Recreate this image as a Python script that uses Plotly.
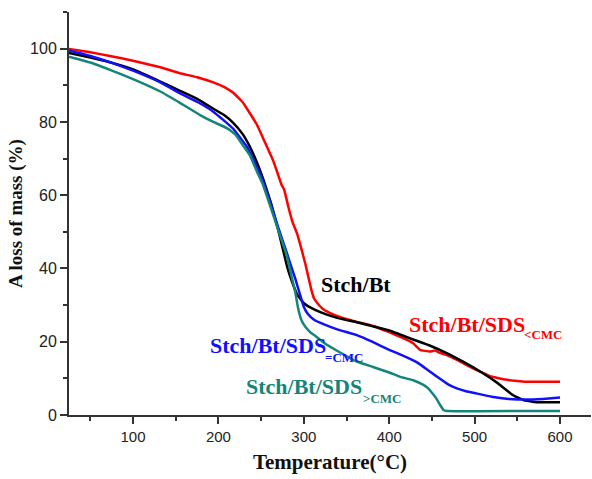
import plotly.graph_objects as go

# ---- data ----
red_x = [25, 50, 73, 100, 132, 155, 175, 194, 207, 217, 228, 237, 245, 252, 258, 264, 270, 274, 277,
         282, 287, 292, 297, 302, 306, 309, 312, 316, 322, 331, 343, 362, 381, 400, 413, 428, 436, 448,
         453, 459, 468, 480, 487, 500, 507, 518, 527, 538, 550, 560, 600]
red_y = [99.9, 99.0, 98.0, 96.7, 94.9, 93.3, 92.2, 90.8, 89.5, 88.0, 85.5, 82.3, 79.3, 75.7, 72.6,
         69.5, 65.5, 62.8, 61.5, 56.7, 52.5, 49.6, 45.5, 41.0, 37.0, 34.0, 31.8, 30.5, 29.0, 27.8,
         26.7, 25.4, 24.3, 22.6, 21.3, 19.6, 17.8, 17.3, 17.6, 17.0, 16.3, 15.0, 14.1, 12.5, 11.8,
         10.6, 10.1, 9.6, 9.3, 9.1, 9.1]

black_x = [25, 50, 73, 100, 132, 155, 175, 194, 207, 217, 228, 236, 245, 253, 262, 270, 281, 286,
           292, 300, 308, 320, 339, 362, 381, 401, 428, 448, 468, 487, 507, 527, 545, 557, 573, 600]
black_y = [98.8, 97.6, 96.3, 94.3, 91.0, 88.5, 86.3, 83.6, 81.8, 79.8, 76.8, 73.6, 69.0, 64.0, 57.5,
           50.5, 40.0, 36.5, 33.0, 30.5, 29.3, 28.0, 26.5, 25.3, 24.2, 23.0, 20.6, 18.9, 16.8,
           14.5, 11.8, 8.7, 5.4, 4.1, 3.5, 3.5]

blue_x = [25, 50, 73, 100, 132, 155, 175, 194, 217, 234, 245, 252, 262, 270, 280, 286, 290, 296, 300,
          305, 312, 323, 340, 362, 380, 400, 420, 433, 448, 460, 470, 480, 490, 500, 520, 540, 560, 580, 600]
blue_y = [99.5, 98.0, 96.3, 94.0, 90.8, 87.8, 85.5, 82.8, 78.2, 73.0, 67.6, 64.0, 57.0, 51.2, 44.3,
          40.0, 37.2, 32.5, 29.5, 27.5, 26.0, 24.8, 23.3, 21.8, 20.0, 17.8, 15.8, 14.3, 11.8, 9.8,
          8.2, 7.2, 6.5, 6.0, 5.0, 4.4, 4.2, 4.4, 4.8]

teal_x = [25, 50, 73, 100, 132, 155, 179, 194, 210, 220, 229, 237, 245, 252, 260, 270, 280, 286, 290,
          293, 297, 302, 308, 315, 323, 343, 362, 381, 400, 413, 428, 440, 445, 452, 456, 460, 464,
          468, 600]
teal_y = [97.8, 96.2, 94.2, 91.7, 88.3, 85.2, 81.8, 80.0, 78.3, 76.5, 73.5, 70.8, 66.5, 63.0, 57.5,
          50.5, 43.5, 37.5, 33.5, 29.5, 26.0, 24.0, 22.5, 21.3, 19.8, 17.0, 14.6, 13.1, 11.6, 10.4,
          9.5, 8.2, 7.4, 5.5, 4.2, 2.6, 1.3, 1.1, 1.1]

x_ticks = [100, 200, 300, 400, 500, 600]
y_ticks = [0, 20, 40, 60, 80, 100]

RED = "#ff0000"
BLACK = "#000000"
BLUE = "#1010ff"
TEAL = "#14857a"

fig = go.Figure()
for xs, ys, c in [(red_x, red_y, RED), (black_x, black_y, BLACK),
                  (blue_x, blue_y, BLUE), (teal_x, teal_y, TEAL)]:
    fig.add_trace(go.Scatter(x=xs, y=ys, mode="lines",
                             line=dict(color=c, width=2.5, shape="spline", smoothing=0.3),
                             showlegend=False, hoverinfo="skip"))

XR = [25, 636.3]
YR = [0, 110]
AX = "#333333"
xtickfont = dict(family="Liberation Sans, Arial, sans-serif", size=15, color="#222222")
ytickfont = dict(family="Liberation Sans, Arial, sans-serif", size=16, color="#222222")
serif = "Liberation Serif, Times New Roman, serif"

fig.update_layout(
    width=592, height=479,
    margin=dict(l=69, r=1, t=12, b=64, autoexpand=False),
    paper_bgcolor="white", plot_bgcolor="white",
    xaxis=dict(range=XR, tickvals=x_ticks, ticks="outside", ticklen=7, tickwidth=1.5,
               tickcolor=AX, showline=True, linecolor=AX, linewidth=2, showgrid=False,
               zeroline=False, tickfont=xtickfont, automargin=False,
               minor=dict(tickmode="linear", tick0=0, dtick=50, ticks="outside", ticklen=4,
                          tickwidth=1.5, tickcolor=AX),
               title=dict(text="<b>Temperature(°C)</b>",
                          font=dict(family=serif, size=21, color="#111111"), standoff=10)),
    xaxis2=dict(range=XR, overlaying="x", side="top", anchor="y", tickvals=x_ticks,
                ticks="inside", ticklen=7, tickwidth=1.5, tickcolor=AX, showline=True,
                linecolor=AX, linewidth=2, showgrid=False, zeroline=False,
                showticklabels=False,
                minor=dict(tickmode="linear", tick0=0, dtick=50, ticks="inside", ticklen=4,
                           tickwidth=1.5, tickcolor=AX)),
    yaxis=dict(range=YR, tickvals=y_ticks, ticks="outside", ticklen=7, tickwidth=1.5,
               tickcolor=AX, showline=True, linecolor=AX, linewidth=2, showgrid=False,
               zeroline=False, tickfont=ytickfont, automargin=False,
               minor=dict(tickmode="linear", tick0=0, dtick=10, ticks="outside", ticklen=4,
                          tickwidth=1.5, tickcolor=AX),
               title=dict(text="<b>A loss of mass (%)</b>",
                          font=dict(family=serif, size=19, color="#111111"), standoff=2)),
)

# labels: (x, y, text, size, colour)
labels = [
    (319.0, 35.5, "<b>Stch/Bt</b>", 22, BLACK),
    (422.2, 24.8, "<b>Stch/Bt/SDS</b>", 22, RED),
    (556.7, 22.1, "<b>&lt;CMC</b>", 13, RED),
    (189.1, 19.0, "<b>Stch/Bt/SDS</b>", 22, BLUE),
    (323.8, 15.7, "<b>=CMC</b>", 13, BLUE),
    (231.3, 7.9, "<b>Stch/Bt/SDS</b>", 22, TEAL),
    (368.4, 4.4, "<b>&gt;CMC</b>", 13, TEAL),
]
for lx, ly, txt, sz, col in labels:
    fig.add_annotation(x=lx, y=ly, xref="x", yref="y", text=txt, showarrow=False,
                       xanchor="left", yanchor="middle", borderpad=0,
                       font=dict(family=serif, size=sz, color=col))

fig.write_html("out.html", config={"displayModeBar": False},
               post_script="document.body.style.margin='0';")
